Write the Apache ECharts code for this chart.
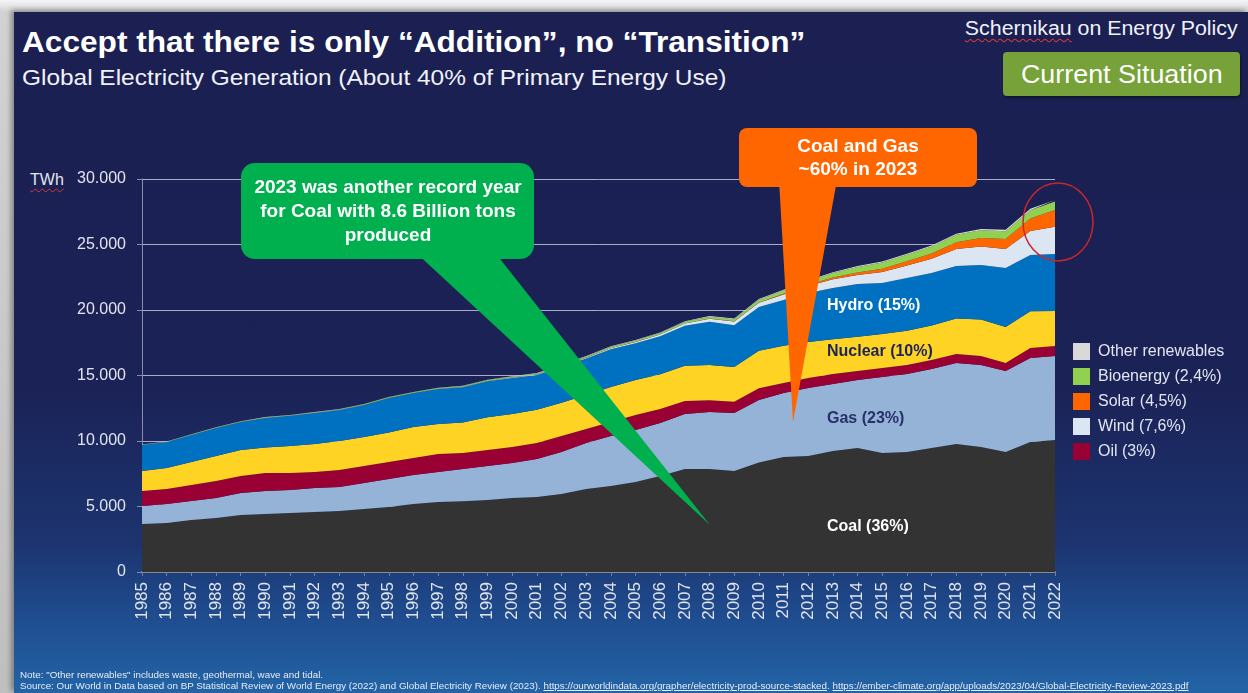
<!DOCTYPE html>
<html><head><meta charset="utf-8">
<script src="https://cdn.jsdelivr.net/npm/echarts@6/dist/echarts.min.js"></script>
<style>
html,body{margin:0;padding:0;width:1248px;height:693px;overflow:hidden;background:#d0d0d0;font-family:"Liberation Sans",Arial,sans-serif;}
#frame{position:absolute;left:0;top:0;width:1248px;height:693px;background:linear-gradient(180deg,#f6f6f6 0,#d2d2d2 12px,#bfbfbf 100%);}
#slide{position:absolute;left:14px;top:12px;width:1234px;height:681px;background:linear-gradient(180deg,#1b1f51 0%,#1b2256 55%,#1c3470 78%,#1f4f92 90%,#2264a6 100%);box-shadow:-3px -2px 5px rgba(0,0,0,0.35);}
#chart{position:absolute;left:0;top:0;width:1248px;height:693px;}
.t{position:absolute;color:#fff;white-space:nowrap;}
#title{left:22px;top:25px;font-size:29px;line-height:34px;font-weight:bold;transform:scaleX(1.09);transform-origin:0 50%;}
#sub{left:22px;top:65px;font-size:22px;line-height:26px;color:#f0f2f8;transform:scaleX(1.11);transform-origin:0 50%;}
#brand{right:10px;top:16px;font-size:20px;line-height:24px;color:#f0f2f8;transform:scaleX(1.067);transform-origin:100% 50%;}
.wavy{text-decoration:underline wavy #d23a3a;text-decoration-thickness:1px;text-underline-offset:3px;}
#btn{position:absolute;left:1003px;top:52px;width:237px;height:44px;background:#77a23a;border-radius:4px;box-shadow:1px 2px 3px rgba(0,0,0,0.4);color:#fff;font-size:25px;line-height:44px;text-align:center;}
#btn span{display:inline-block;transform:scaleX(1.075);}
#twh{left:30px;top:170px;font-size:16px;line-height:20px;color:#e4e6f0;}
#note{left:20px;top:670px;font-size:9px;line-height:11px;color:#e8ecf5;transform:scaleX(1.09);transform-origin:0 50%;}
#src{left:20px;top:681px;font-size:9px;line-height:11px;color:#e8ecf5;transform:scaleX(1.09);transform-origin:0 50%;}
</style></head>
<body>
<div id="frame"></div>
<div id="slide"></div>
<div class="t" id="title">Accept that there is only “Addition”, no “Transition”</div>
<div class="t" id="sub">Global Electricity Generation (About 40% of Primary Energy Use)</div>
<div class="t" id="brand"><span class="wavy">Schernikau</span> on Energy Policy</div>
<div id="btn"><span>Current Situation</span></div>
<div class="t" id="twh"><span class="wavy">TWh</span></div>
<div id="chart"></div>
<div class="t" id="note">Note: "Other renewables" includes waste, geothermal, wave and tidal.</div>
<div class="t" id="src">Source: Our World in Data based on BP Statistical Review of World Energy (2022) and Global Electricity Review (2023). <u>https://ourworldindata.org/grapher/electricity-prod-source-stacked</u>. <u>https://ember-climate.org/app/uploads/2023/04/Global-Electricity-Review-2023.pdf</u></div>
<script>
const years = ['1985','1986','1987','1988','1989','1990','1991','1992','1993','1994','1995','1996','1997','1998','1999','2000','2001','2002','2003','2004','2005','2006','2007','2008','2009','2010','2011','2012','2013','2014','2015','2016','2017','2018','2019','2020','2021','2022'];
const coal = [3660,3740,3970,4120,4350,4430,4500,4580,4660,4810, 4960,5190,5340,5400,5500,5650,5725,5950,6340,6560, 6870,7330,7860,7860,7710,8350,8780,8850,9240,9460, 9080,9160,9460,9770,9540,9160,9920,10080];
const gas = [1380,1450,1450,1530,1680,1750,1760,1830,1830,1980, 2140,2210,2290,2460,2590,2670,2900,3210,3510,3820, 3970,4040,4200,4350,4430,4780,4880,5200,5110,5200, 5810,5950,6040,6180,6260,6180,6410,6410];
const oil = [1140,1150,1220,1300,1300,1380,1300,1220,1300,1300, 1300,1300,1380,1220,1220,1220,1220,1220,1070,1070, 1140,1070,1000,900,850,900,770,750,760,680, 680,690,680,690,690,610,770,760];
const nuclear = [1530,1600,1760,1900,1980,1950,2060,2140,2210,2220, 2250,2370,2290,2330,2500,2520,2540,2540,2590,2670, 2680,2650,2680,2700,2650,2850,2850,2750,2650,2620, 2600,2610,2640,2710,2790,2750,2800,2680];
const hydro = [1980,1980,2060,2140,2140,2250,2300,2370,2370,2440, 2630,2590,2670,2700,2750,2750,2650,2730,2790,2880, 2800,2900,3050,3300,3200,3350,3480,3750,3920,4020, 3890,4030,4000,4010,4160,4510,4300,4340];
const wind = [0,0,1,1,2,4,4,5,6,7, 8,10,12,16,21,31,38,52,63,85, 104,133,170,220,276,320,420,525,660,700, 840,950,1100,1300,1400,1450,1840,2080];
const solar = [0,0,0,0,0,0,0,0,0,0, 0,0,0,1,1,1,1,2,2,3, 4,5,7,12,20,32,63,99,136,190, 256,328,400,520,650,760,950,1290];
const bio = [25,25,28,30,32,35,38,40,42,45, 48,50,55,60,65,70,75,80,90,100, 110,120,135,150,165,200,240,290,350,420, 470,500,520,560,590,600,620,640];
const other = [20,20,21,22,23,24,25,26,27,28, 29,30,31,32,33,34,35,36,37,38, 40,42,44,46,48,50,55,60,65,70, 75,80,85,90,95,100,110,120];
const yTicks = ['0','5.000','10.000','15.000','20.000','25.000','30.000'];
const legendNames = ['Other renewables','Bioenergy (2,4%)','Solar (4,5%)','Wind (7,6%)','Oil (3%)'];

const FONT = '"Liberation Sans", Arial, sans-serif';
const layers = [
  ['Coal', coal, '#333333'],
  ['Gas', gas, '#95b3d7'],
  ['Oil (3%)', oil, '#990033'],
  ['Nuclear', nuclear, '#ffd324'],
  ['Hydro', hydro, '#0070c0'],
  ['Wind (7,6%)', wind, '#dce6f2'],
  ['Solar (4,5%)', solar, '#ff6600'],
  ['Bioenergy (2,4%)', bio, '#92d050'],
  ['Other renewables', other, '#d9d9d9']
];
const series = layers.map(([name, data, color]) => ({
  name, type: 'line', stack: 'total', data,
  symbol: 'none', smooth: false,
  lineStyle: { width: 0, color },
  itemStyle: { color },
  areaStyle: { color, opacity: 1 },
  emphasis: { disabled: true },
  silent: true
}));

const chart = echarts.init(document.getElementById('chart'), null, { renderer: 'canvas' });
const Z = 50;
const txt = (x, y, text, fill, size, bold, align) => ({
  type: 'text', x, y, z: Z, silent: true,
  style: { text, fill, font: (bold ? 'bold ' : '') + size + 'px ' + FONT, textAlign: align || 'left', textVerticalAlign: 'middle' }
});
chart.setOption({
  backgroundColor: 'transparent',
  animation: false,
  grid: { left: 142, right: 193, top: 179, bottom: 121 },
  legend: {
    data: legendNames, orient: 'vertical', left: 1073, top: 343, padding: 0,
    itemWidth: 17, itemHeight: 17, itemGap: 8, icon: 'rect', selectedMode: false,
    textStyle: { color: '#e2e6f2', fontSize: 16, fontFamily: FONT, padding: [0, 0, 0, 3] }
  },
  xAxis: {
    type: 'category', data: years, boundaryGap: false,
    axisLine: { lineStyle: { color: '#8a8a8a', width: 2 } },
    axisTick: { show: true, length: 4, lineStyle: { color: '#7080a8' } },
    axisLabel: { rotate: 90, interval: 0, fontSize: 17, color: '#e2e4ee', fontFamily: FONT, margin: 10 }
  },
  yAxis: {
    type: 'value', min: 0, max: 30000, interval: 5000,
    axisLine: { show: true, lineStyle: { color: '#8a8ca8', width: 1 } },
    axisTick: { show: true, length: 5, lineStyle: { color: '#8a8ca8' } },
    splitLine: { lineStyle: { color: '#a9abc8', width: 1 } },
    axisLabel: { fontSize: 16, color: '#e2e4ee', fontFamily: FONT, margin: 16,
      formatter: v => yTicks[Math.round(v / 5000)] }
  },
  series,
  graphic: [
    txt(827, 306, 'Hydro (15%)', '#ffffff', 16, true),
    txt(827, 352, 'Nuclear (10%)', '#1c2458', 16, true),
    txt(827, 419, 'Gas (23%)', '#27306a', 16, true),
    txt(827, 527, 'Coal (36%)', '#ffffff', 16, true),
    { type: 'polygon', z: Z, silent: true, shape: { points: [[413, 250], [493, 250], [710, 525]] }, style: { fill: '#00b04f' } },
    { type: 'rect', z: Z, silent: true, shape: { x: 241, y: 163, width: 293, height: 96, r: 14 }, style: { fill: '#00b04f' } },
    txt(388, 188, '2023 was another record year', '#ffffff', 19, true, 'center'),
    txt(388, 212, 'for Coal with 8.6 Billion tons', '#ffffff', 19, true, 'center'),
    txt(388, 236, 'produced', '#ffffff', 19, true, 'center'),
    { type: 'polygon', z: Z, silent: true, shape: { points: [[779, 180], [837, 180], [793, 422]] }, style: { fill: '#ff6600' } },
    { type: 'rect', z: Z, silent: true, shape: { x: 739, y: 128, width: 238, height: 59, r: 8 }, style: { fill: '#ff6600' } },
    txt(858, 147, 'Coal and Gas', '#ffffff', 19, true, 'center'),
    txt(858, 170, '~60% in 2023', '#ffffff', 19, true, 'center'),
    { type: 'ellipse', z: Z, silent: true, shape: { cx: 1058, cy: 222, rx: 35, ry: 39 }, style: { fill: 'none', stroke: '#c8262c', lineWidth: 1.5 } }
  ]
});
</script>
</body></html>
